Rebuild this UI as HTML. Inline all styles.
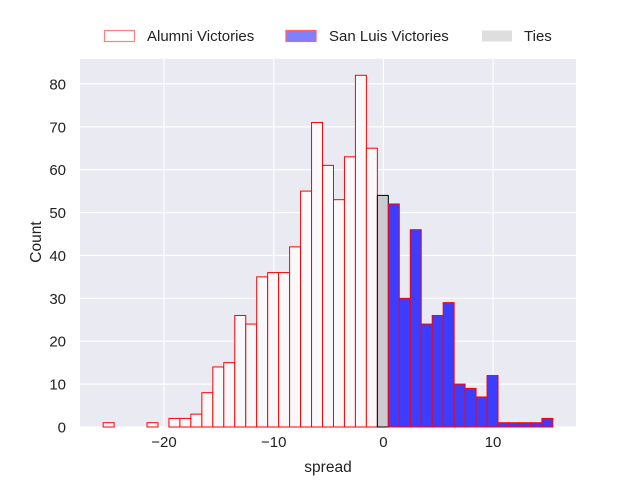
<!DOCTYPE html>
<html><head><meta charset="utf-8"><style>
body{margin:0;background:#fff;font-family:"Liberation Sans",sans-serif}
</style></head><body>
<svg id="chart" width="640" height="480" xmlns="http://www.w3.org/2000/svg" font-family="Liberation Sans, sans-serif">
<rect x="80" y="59" width="496" height="368" fill="#eaeaf2"/>
<g id="grid"></g><g id="bars"></g><g id="ticks"></g>
<text x="328" y="472" text-anchor="middle" font-size="15.5" fill="#222">spread</text>
<text x="41" y="242" text-anchor="middle" font-size="15.5" fill="#222" transform="rotate(-90 41 242)">Count</text>
<g>
<g><rect x="104.5" y="30.5" width="30" height="11" fill="#fff" stroke="#ff8080" stroke-width="1.2"/><text x="147" y="41" font-size="15" fill="#222">Alumni Victories</text></g>
<g><rect x="286" y="30.5" width="30" height="11" fill="#8080ff" stroke="#ff6060" stroke-width="1.2"/><text x="329" y="41" font-size="15" fill="#222">San Luis Victories</text></g>
<g><rect x="482" y="30.5" width="30" height="11" fill="#dedede"/><text x="524" y="41" font-size="15" fill="#222">Ties</text></g>
</g>
</svg>
<script>
const binStart = -25.55;
const binWidth = 1.0;
const alumniCounts = [1,0,0,0,1,0,2,2,3,8,14,15,26,24,35,36,36,42,55,71,61,53,63,82,65];
const tieCounts = [54];
const sanLuisCounts = [52,30,46,24,26,29,10,9,7,12,1,1,1,1,2];
const xTicks = [-20,-10,0,10];
const yTicks = [0,10,20,30,40,50,60,70,80];
const X0=80,X1=576,Y0=427,Y1=59, xmin=-27.66, xmax=17.56, ymax=85.8;
const sx=v=>X0+(v-xmin)/(xmax-xmin)*(X1-X0);
const sy=v=>Y0-v/ymax*(Y0-Y1);
const NS="http://www.w3.org/2000/svg";
function mk(tag,attrs,parent){const e=document.createElementNS(NS,tag);for(const k in attrs)e.setAttribute(k,attrs[k]);parent.appendChild(e);return e;}
const grid=document.getElementById('grid'),bars=document.getElementById('bars'),ticks=document.getElementById('ticks');
xTicks.forEach(t=>{
 const l=mk('line',{x1:sx(t),x2:sx(t),y1:Y1,y2:Y0,stroke:'#fff','stroke-width':1.2},grid);
 
 
 const tx=mk('text',{x:sx(t),y:447,'text-anchor':'middle','font-size':15,fill:'#222'},ticks);
 tx.textContent=t<0?'\u2212'+Math.abs(t):t;
 
 
});
yTicks.forEach(t=>{
 const l=mk('line',{x1:X0,x2:X1,y1:sy(t),y2:sy(t),stroke:'#fff','stroke-width':1.2},grid);
 
 
 const tx=mk('text',{x:66,y:sy(t)+5.5,'text-anchor':'end','font-size':15,fill:'#222'},ticks);
 tx.textContent=t;
 
 
});
function drawSeries(counts,offset,fill,stroke,name){
 counts.forEach((c,i)=>{
  if(c<=0)return;
  const a=binStart+(offset+i)*binWidth;
  const r=mk('rect',{x:sx(a),y:sy(c),width:sx(a+binWidth)-sx(a),height:sy(0)-sy(c),fill:fill,stroke:stroke,'stroke-width':1},bars);
  
  
 });
}
drawSeries(alumniCounts,0,'#f9f9fb','#ff0000','alumni-bar');
drawSeries(tieCounts,alumniCounts.length,'#cbcbcf','#000','ties-bar');
drawSeries(sanLuisCounts,alumniCounts.length+tieCounts.length,'#3d3dff','#ff0000','san-luis-bar');
</script>
</body></html>
